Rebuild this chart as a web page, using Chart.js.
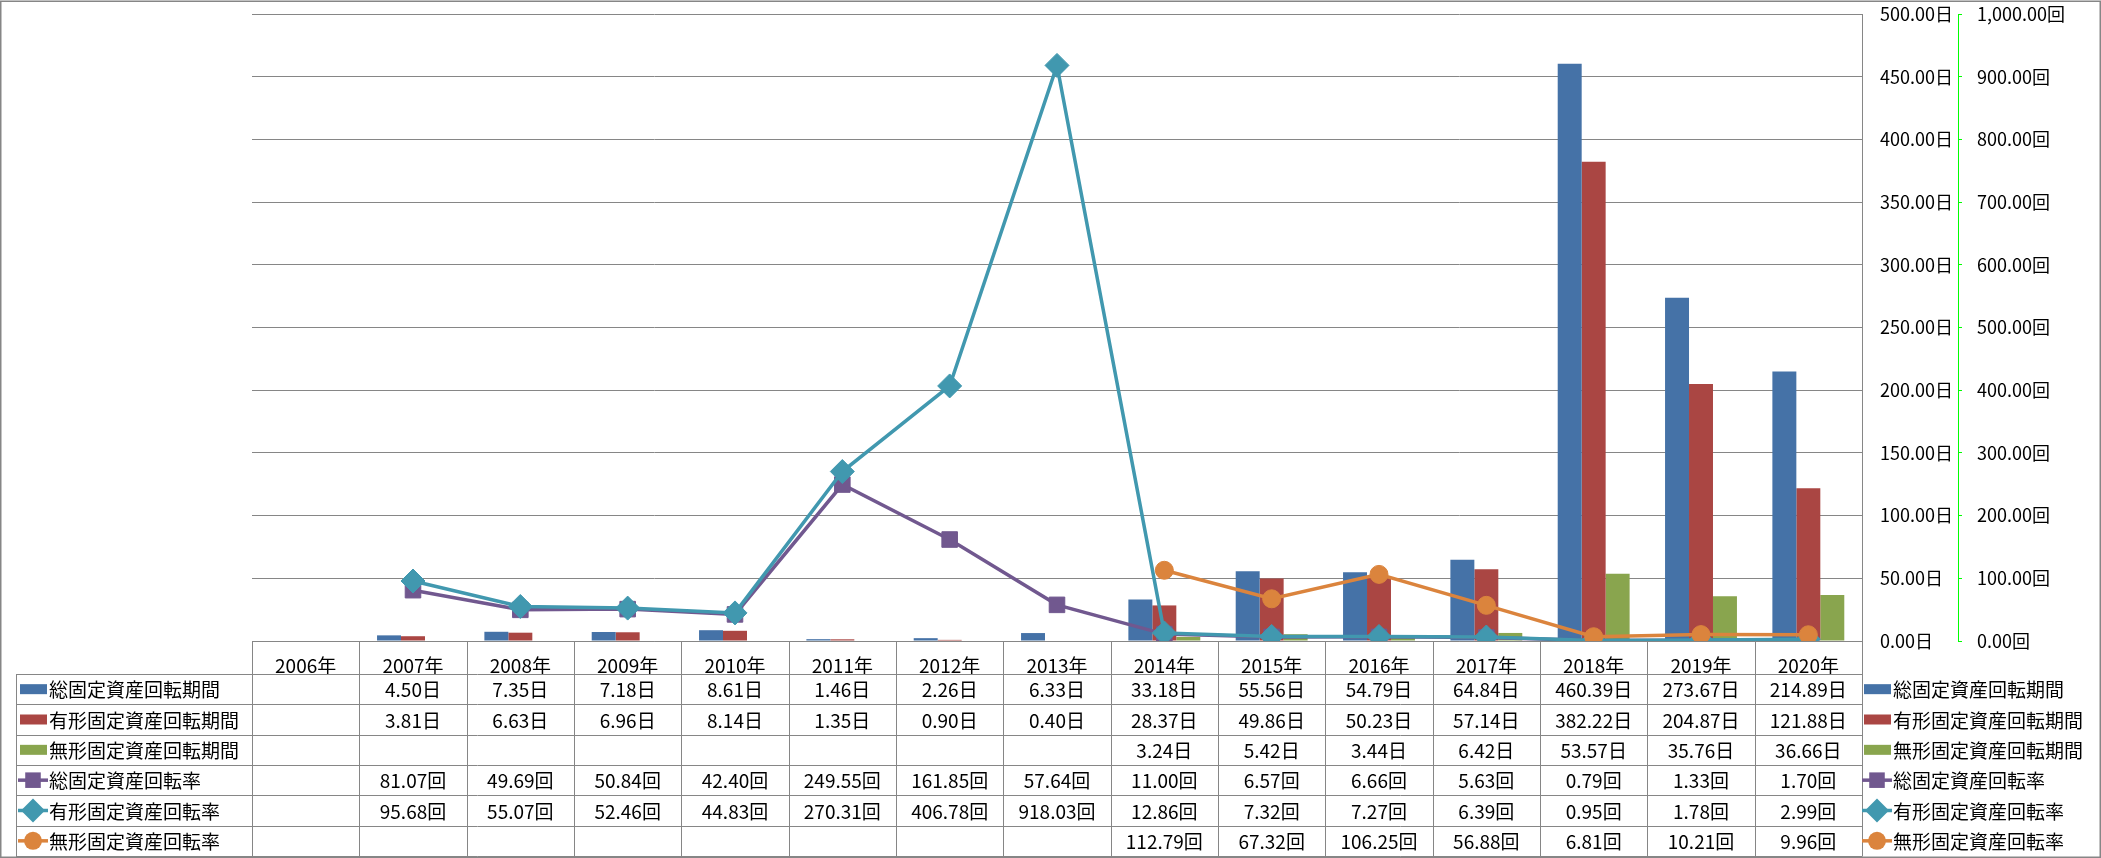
<!DOCTYPE html>
<html lang="ja">
<head>
<meta charset="UTF-8">
<title>固定資産回転期間・回転率</title>
<script src="https://cdn.jsdelivr.net/npm/chart.js"></script>
<style>
    html, body { margin: 0; padding: 0; background: #fff; }
    canvas { display: block; }
</style>
</head>
<body>
<canvas id="chart" width="2101" height="858"></canvas>
<script>
// カテゴリ
const years = ['2006年', '2007年', '2008年', '2009年', '2010年', '2011年', '2012年', '2013年',
               '2014年', '2015年', '2016年', '2017年', '2018年', '2019年', '2020年'];

// 回転期間 (日)
const totalDays    = [null, 4.50, 7.35, 7.18, 8.61, 1.46, 2.26, 6.33, 33.18, 55.56, 54.79, 64.84, 460.39, 273.67, 214.89];
const tangibleDays = [null, 3.81, 6.63, 6.96, 8.14, 1.35, 0.90, 0.40, 28.37, 49.86, 50.23, 57.14, 382.22, 204.87, 121.88];
const intangDays   = [null, null, null, null, null, null, null, null, 3.24, 5.42, 3.44, 6.42, 53.57, 35.76, 36.66];

// 回転率 (回)
const totalRate    = [null, 81.07, 49.69, 50.84, 42.40, 249.55, 161.85, 57.64, 11.00, 6.57, 6.66, 5.63, 0.79, 1.33, 1.70];
const tangibleRate = [null, 95.68, 55.07, 52.46, 44.83, 270.31, 406.78, 918.03, 12.86, 7.32, 7.27, 6.39, 0.95, 1.78, 2.99];
const intangRate   = [null, null, null, null, null, null, null, null, 112.79, 67.32, 106.25, 56.88, 6.81, 10.21, 9.96];

const seriesNames = ['総固定資産回転期間', '有形固定資産回転期間', '無形固定資産回転期間',
                     '総固定資産回転率', '有形固定資産回転率', '無形固定資産回転率'];

// 軸の目盛
const dayTicks  = { min: 0, max: 500, step: 50 };
const rateTicks = { min: 0, max: 1000, step: 100 };

const FONT = '"Noto Sans CJK JP", "Noto Sans", sans-serif';
const GRID = '#868686';

// 見た目
const styles = [
    { type: 'bar',  color: '#4572A7', unit: '日' },
    { type: 'bar',  color: '#AA4643', unit: '日' },
    { type: 'bar',  color: '#89A54E', unit: '日' },
    { type: 'line', color: '#71588F', unit: '回', point: 'rect',    radius: 11, order: 2 },
    { type: 'line', color: '#4198AF', unit: '回', point: 'rectRot', radius: 12, order: 1 },
    { type: 'line', color: '#DB843D', unit: '回', point: 'circle',  radius: 9, order: 0 }
];
const allData = [totalDays, tangibleDays, intangDays, totalRate, tangibleRate, intangRate];

const fmt = v => v.toLocaleString('en-US', { minimumFractionDigits: 2, maximumFractionDigits: 2 });

function drawMarker(ctx, s, cx, cy) {
    ctx.fillStyle = s.color;
    ctx.beginPath();
    if (s.point === 'rect') {
        const h = s.radius * Math.SQRT1_2;
        ctx.rect(cx - h, cy - h, 2 * h, 2 * h);
    } else if (s.point === 'rectRot') {
        const r = s.radius;
        ctx.moveTo(cx, cy - r); ctx.lineTo(cx + r, cy); ctx.lineTo(cx, cy + r); ctx.lineTo(cx - r, cy);
        ctx.closePath();
    } else {
        ctx.arc(cx, cy, s.radius, 0, Math.PI * 2);
    }
    ctx.fill();
}

function drawKey(ctx, s, cx, cy) {
    if (s.type === 'bar') {
        ctx.fillStyle = s.color;
        ctx.fillRect(cx - 13, cy - 5, 27, 10);
    } else {
        ctx.strokeStyle = s.color;
        ctx.lineWidth = 3.5;
        ctx.beginPath();
        ctx.moveTo(cx - 15, cy); ctx.lineTo(cx + 15, cy);
        ctx.stroke();
        drawMarker(ctx, s, cx, cy);
    }
}

// データテーブルと凡例
const tablePlugin = {
    id: 'dataTable',
    beforeDraw(chart) {
        const ctx = chart.ctx;
        ctx.save();
        ctx.strokeStyle = GRID;
        ctx.lineWidth = 1.5;
        ctx.strokeRect(0.75, 1.25, chart.width - 1.5, chart.height - 2);
        ctx.restore();
    },
    afterDraw(chart) {
        const ctx = chart.ctx;
        const x = chart.scales.x;
        const area = chart.chartArea;
        const colW = x.getPixelForValue(1) - x.getPixelForValue(0);
        const top = area.bottom;
        const headBottom = top + 33;
        const bottom = 856;
        const rowH = (bottom - headBottom) / seriesNames.length;
        const labelLeft = 16;
        const px = v => Math.round(v) + 0.5;

        ctx.save();
        ctx.strokeStyle = GRID;
        ctx.lineWidth = 1;
        ctx.beginPath();
        // 横線
        ctx.moveTo(area.left, px(top)); ctx.lineTo(area.right, px(top));
        for (let r = 0; r <= seriesNames.length; r++) {
            const y = px(headBottom + r * rowH);
            ctx.moveTo(labelLeft, y); ctx.lineTo(area.right, y);
        }
        // 縦線
        for (let i = 0; i <= years.length; i++) {
            const xx = px(area.left + i * colW);
            ctx.moveTo(xx, top); ctx.lineTo(xx, px(bottom));
        }
        ctx.moveTo(px(labelLeft), headBottom); ctx.lineTo(px(labelLeft), px(bottom));
        ctx.stroke();

        ctx.font = '19px ' + FONT;
        ctx.textBaseline = 'middle';
        seriesNames.forEach((name, r) => {
            const s = styles[r];
            const cy = headBottom + rowH * (r + 0.5);
            // 行ラベル
            drawKey(ctx, s, 33, cy);
            ctx.fillStyle = '#000';
            ctx.textAlign = 'left';
            ctx.fillText(name, 49, cy + 1);
            // 値
            ctx.textAlign = 'center';
            allData[r].forEach((v, i) => {
                if (v === null) return;
                ctx.fillText(fmt(v) + s.unit, x.getPixelForValue(i), cy + 1);
            });
            // 右側の凡例
            drawKey(ctx, s, 1877, cy);
            ctx.fillStyle = '#000';
            ctx.textAlign = 'left';
            ctx.fillText(name, 1893, cy + 1);
        });
        ctx.restore();
    }
};

const datasets = allData.map((data, i) => {
    const s = styles[i];
    if (s.type === 'bar') {
        return {
            type: 'bar', label: seriesNames[i], data: data,
            backgroundColor: s.color, borderWidth: 0,
            yAxisID: 'y', order: 3,
            barPercentage: 1, categoryPercentage: 0.67
        };
    }
    return {
        type: 'line', label: seriesNames[i], data: data,
        borderColor: s.color, backgroundColor: s.color,
        borderWidth: 3.5, tension: 0,
        pointStyle: s.point, pointRadius: s.radius,
        pointBackgroundColor: s.color, pointBorderColor: s.color, pointBorderWidth: 1,
        yAxisID: 'y2', order: s.order
    };
});

// 縦軸のラベルによる余白を無くす
function fitVertical(width) {
    return axis => {
        axis.width = width;
        axis.paddingTop = 0;
        axis.paddingBottom = 0;
    };
}

new Chart(document.getElementById('chart'), {
    data: { labels: years, datasets: datasets },
    options: {
        responsive: false,
        animation: false,
        devicePixelRatio: 1,
        layout: { padding: { left: 252, top: 14, right: 0, bottom: 0 } },
        plugins: { legend: { display: false }, tooltip: { enabled: false } },
        scales: {
            x: {
                offset: true,
                grid: { display: false },
                border: { display: false },
                ticks: {
                    color: '#000', font: { family: FONT, size: 19 },
                    padding: 5, maxRotation: 0, autoSkip: false
                },
                afterFit(axis) {
                    axis.height = 858 - 641;
                    axis.paddingLeft = 0;
                    axis.paddingRight = 0;
                }
            },
            y: {
                position: 'right', weight: 0,
                min: dayTicks.min, max: dayTicks.max,
                grid: { color: GRID, lineWidth: 1, drawTicks: false },
                border: { display: true, color: GRID, width: 1 },
                ticks: {
                    stepSize: dayTicks.step, padding: 18,
                    color: '#000', font: { family: FONT, size: 18 },
                    callback: v => fmt(v) + '日'
                },
                afterFit: fitVertical(96)
            },
            y2: {
                position: 'right', weight: 1,
                min: rateTicks.min, max: rateTicks.max,
                grid: { display: true, drawOnChartArea: false, drawTicks: true, tickLength: 4, tickColor: '#00FF00' },
                border: { display: true, color: '#00FF00', width: 1, dash: [4, 2] },
                ticks: {
                    stepSize: rateTicks.step, padding: 15,
                    color: '#000', font: { family: FONT, size: 18 },
                    callback: v => fmt(v) + '回'
                },
                afterFit: fitVertical(2101 - 1958)
            }
        }
    },
    plugins: [tablePlugin]
});
</script>
</body>
</html>
